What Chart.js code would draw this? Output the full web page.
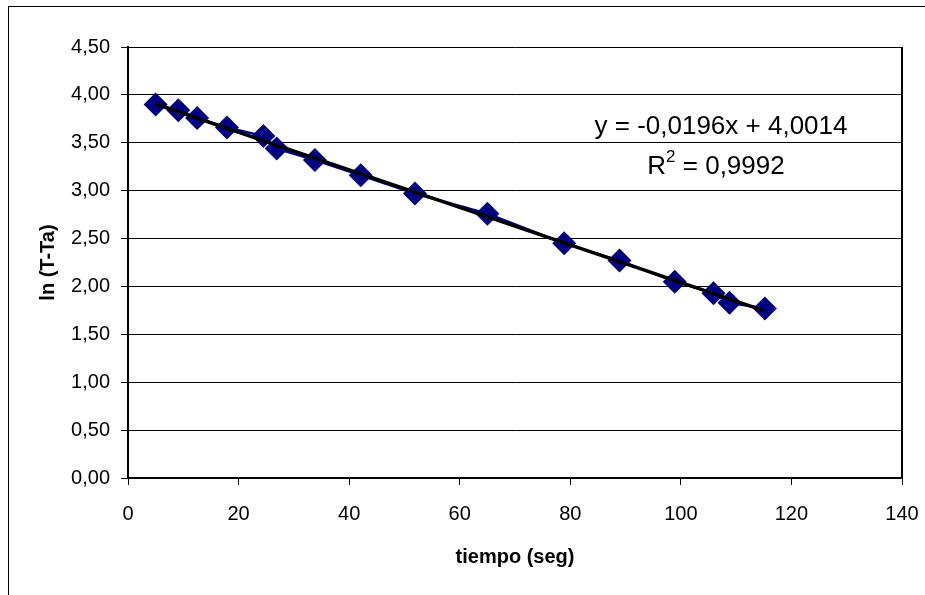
<!DOCTYPE html>
<html>
<head>
<meta charset="utf-8">
<script src="https://cdn.jsdelivr.net/npm/chart.js@4.4.1/dist/chart.umd.min.js"></script>
<style>
  html, body { margin: 0; padding: 0; background: #fff; }
  #wrap { width: 925px; height: 595px; position: relative; }
</style>
</head>
<body>
<div id="wrap"><canvas id="plot"></canvas></div>
<script>
// values
const timeSeg = [5, 9.1, 12.5, 17.9, 24.5, 26.9, 33.8, 42.1, 51.9, 65.0, 78.9, 88.9, 98.9, 105.9, 108.8, 115.2];
const lnDiff = [3.90, 3.84, 3.76, 3.66, 3.57, 3.44, 3.32, 3.16, 2.97, 2.76, 2.45, 2.27, 2.05, 1.93, 1.83, 1.77];

// linear trend shown on the chart
const slope = -0.0196;
const intercept = 4.0014;
const r2 = 0.9992;
const trendX = [5, 115];

const fontFam = "'Liberation Sans', Arial, sans-serif";
const comma = (v, d) => v.toFixed(d).replace(".", ",");

const points = timeSeg.map((t, i) => ({ x: t, y: lnDiff[i] }));
const trend = trendX.map((t) => ({ x: t, y: slope * t + intercept }));

const decor = {
  id: "decor",
  afterDraw: (chart) => {
    const ctx = chart.ctx;
    const a = chart.chartArea;
    ctx.save();
    // outer frame
    ctx.strokeStyle = "#000";
    ctx.lineWidth = 1;
    ctx.strokeRect(8.5, 6.5, 1000, 1000);
    // right border of plot area
    ctx.lineWidth = 2;
    ctx.beginPath();
    ctx.moveTo(a.right, a.top);
    ctx.lineTo(a.right, a.bottom);
    ctx.stroke();

    // trend equation
    ctx.fillStyle = "#000";
    ctx.textBaseline = "alphabetic";
    ctx.font = "26px " + fontFam;
    ctx.textAlign = "center";
    const eq = "y = " + comma(slope, 4) + "x + " + comma(intercept, 4);
    ctx.fillText(eq, 721, 134);

    const big = "26px " + fontFam;
    const small = "17px " + fontFam;
    const rest = " = " + comma(r2, 4);
    ctx.font = big;
    const wR = ctx.measureText("R").width;
    const wRest = ctx.measureText(rest).width;
    ctx.font = small;
    const w2 = ctx.measureText("2").width;
    const total = wR + w2 + wRest;
    let x = 716 - total / 2;
    ctx.textAlign = "left";
    ctx.font = big;
    ctx.fillText("R", x, 174);
    x += wR;
    ctx.font = small;
    ctx.fillText("2", x, 162);
    x += w2;
    ctx.font = big;
    ctx.fillText(rest, x, 174);
    ctx.restore();
  }
};

new Chart(document.getElementById("plot").getContext("2d"), {
  type: "scatter",
  data: {
    datasets: [
      {
        label: "tendencia",
        data: trend,
        showLine: true,
        borderColor: "#000",
        borderWidth: 3.5,
        pointRadius: 0,
        order: 0
      },
      {
        label: "ln (T-Ta)",
        data: points,
        showLine: true,
        borderColor: "#000080",
        backgroundColor: "#000080",
        borderWidth: 2.5,
        pointStyle: "rectRot",
        pointRadius: 12,
        pointBorderWidth: 0,
        order: 1
      }
    ]
  },
  options: {
    responsive: true,
    maintainAspectRatio: false,
    animation: false,
    layout: { padding: { left: 0, top: 47, right: 23, bottom: 0 } },
    plugins: {
      legend: { display: false },
      tooltip: { enabled: false }
    },
    scales: {
      x: {
        type: "linear",
        min: 0,
        max: 140,
        afterFit: (s) => {
          s.height = 117;
          s.paddingLeft = 0;
          s.paddingRight = 0;
        },
        ticks: {
          stepSize: 20,
          color: "#000",
          padding: 17,
          maxRotation: 0,
          font: { family: fontFam, size: 20 }
        },
        grid: { drawOnChartArea: false, color: "#000", tickLength: 7 },
        border: { color: "#000", width: 2 },
        title: {
          display: true,
          text: "tiempo (seg)",
          color: "#000",
          font: { family: fontFam, size: 20, weight: "bold" },
          padding: { top: 0, bottom: 26 }
        }
      },
      y: {
        type: "linear",
        min: 0,
        max: 4.5,
        afterFit: (s) => {
          s.width = 128;
          s.paddingTop = 0;
          s.paddingBottom = 0;
        },
        ticks: {
          stepSize: 0.5,
          color: "#000",
          padding: 11,
          callback: (v) => comma(v, 2),
          font: { family: fontFam, size: 20 }
        },
        grid: { color: "#000", lineWidth: 1, tickLength: 7 },
        border: { color: "#000", width: 2 },
        title: {
          display: true,
          text: "ln (T-Ta)",
          color: "#000",
          font: { family: fontFam, size: 20, weight: "bold" },
          padding: { top: 36, bottom: 0 }
        }
      }
    }
  },
  plugins: [decor]
});
</script>
</body>
</html>
